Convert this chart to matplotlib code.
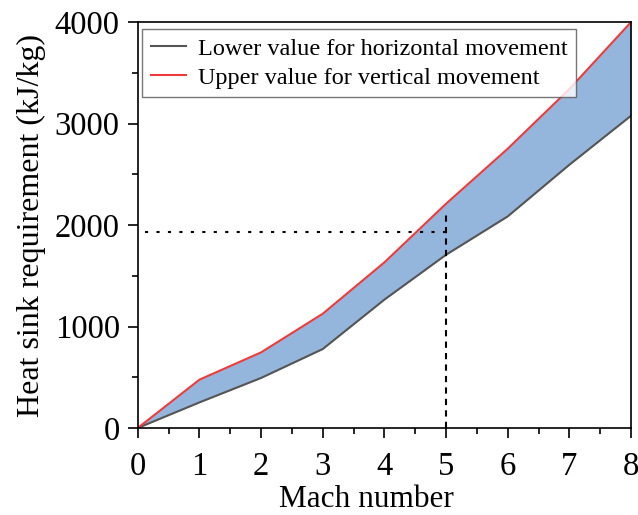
import numpy as np
import matplotlib
matplotlib.use("Agg")
import matplotlib.pyplot as plt
from matplotlib.ticker import MultipleLocator

plt.rcParams['font.family'] = ['Liberation Serif', 'DejaVu Serif']
plt.rcParams['mathtext.fontset'] = 'stix'

# ================= 数据 =================
mach = [0, 1, 2, 3, 4, 5, 6, 7, 8]
lower_horizontal = [0, 252, 493, 778, 1265, 1707, 2085, 2594, 3077]
upper_vertical = [0, 476, 745, 1126, 1632, 2210, 2752, 3340, 4000]

ref_mach = 5
ref_heat = 1927
ref_top = 2130

# ================= 作图 =================
fig = plt.figure(figsize=(6.38, 5.15), dpi=100)
ax = fig.add_axes([0.216, 0.169, 0.773, 0.788])

ax.fill_between(mach, lower_horizontal, upper_vertical, color='#95b6dc', linewidth=0)
ax.plot(mach, lower_horizontal, color='#555555', linewidth=1.5,
        label='Lower value for horizontal movement')
ax.plot(mach, upper_vertical, color='#ee3a3a', linewidth=1.5,
        label='Upper value for vertical movement')

# 参考线
ax.plot([0.12, ref_mach], [ref_heat, ref_heat], color='black', linewidth=1.5,
        linestyle=(0, (1.5, 4)))
ax.plot([ref_mach, ref_mach], [0, ref_top], color='black', linewidth=1.5,
        linestyle=(0, (3, 2.5)))

ax.set_xlim(0, 8)
ax.set_ylim(0, 4000)
ax.xaxis.set_major_locator(MultipleLocator(1))
ax.xaxis.set_minor_locator(MultipleLocator(0.5))
ax.yaxis.set_major_locator(MultipleLocator(1000))
ax.yaxis.set_minor_locator(MultipleLocator(500))
ax.tick_params(which='major', direction='out', length=7, width=1.2, labelsize=23.5)
ax.tick_params(which='minor', direction='out', length=4, width=1.2)
ax.tick_params(axis='x', which='major', pad=10)
ax.tick_params(axis='y', which='major', pad=6)
for s in ax.spines.values():
    s.set_linewidth(1.2)

ax.set_xlabel('Mach number', fontsize=22.5)
ax.xaxis.set_label_coords(0.463, -0.14)
ax.set_ylabel('Heat sink requirement (kJ/kg)', fontsize=23, labelpad=6)

leg = ax.legend(loc='upper left', bbox_to_anchor=(0.009, 0.983), borderaxespad=0,
                fontsize=17.5, frameon=True, fancybox=False, edgecolor='#555555',
                handlelength=1.45, handletextpad=0.5, labelspacing=0.3, borderpad=0.35)
leg.get_frame().set_linewidth(1.0)

plt.savefig('out.png', dpi=100)
